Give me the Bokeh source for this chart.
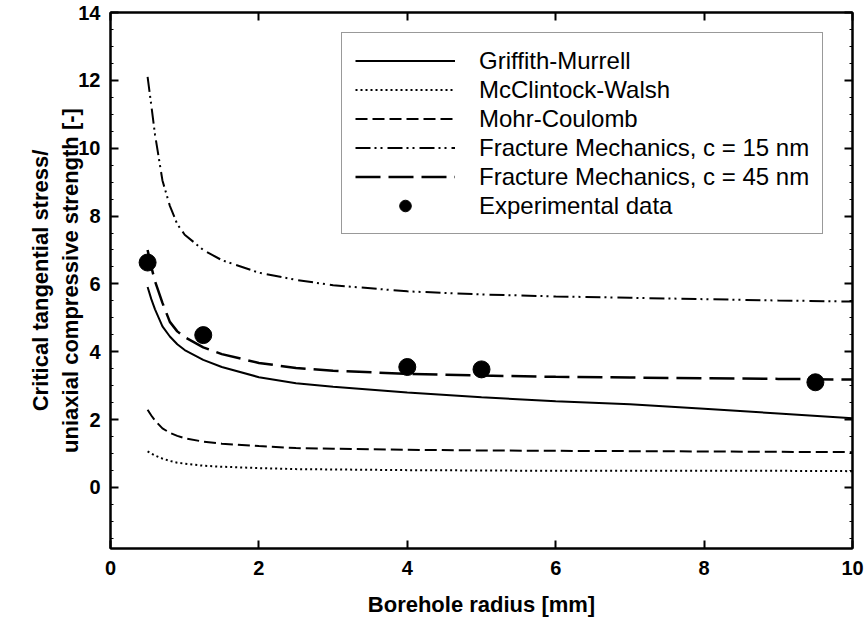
import numpy as np
from bokeh.plotting import figure
from bokeh.models import (Legend, LegendItem, LinearAxis, FixedTicker, Range1d)
from bokeh.embed import file_html
from bokeh.resources import INLINE

# ---- data ----
x_curve = [0.5, 0.55, 0.6, 0.7, 0.8, 0.9, 1.0, 1.25, 1.5, 2.0, 2.5, 3.0, 4.0, 5.0, 6.0, 7.0, 8.0, 9.0, 10.0]
griffith = [5.91, 5.55, 5.25, 4.75, 4.45, 4.22, 4.05, 3.76, 3.55, 3.25, 3.07, 2.97, 2.80, 2.66, 2.54, 2.45, 2.32, 2.18, 2.04]
mcclintock = [1.06, 1.00, 0.94, 0.85, 0.78, 0.73, 0.70, 0.64, 0.61, 0.57, 0.54, 0.53, 0.51, 0.50, 0.49, 0.49, 0.49, 0.49, 0.48]
mohr = [2.29, 2.12, 1.97, 1.74, 1.61, 1.52, 1.45, 1.35, 1.29, 1.22, 1.16, 1.14, 1.11, 1.09, 1.08, 1.07, 1.06, 1.05, 1.04]
fm15 = [12.10, 11.26, 10.40, 9.05, 8.30, 7.76, 7.45, 7.00, 6.70, 6.33, 6.12, 5.96, 5.78, 5.69, 5.63, 5.59, 5.55, 5.51, 5.48]
fm45 = [7.00, 6.50, 6.08, 5.44, 4.88, 4.60, 4.43, 4.13, 3.93, 3.67, 3.52, 3.44, 3.35, 3.30, 3.26, 3.24, 3.22, 3.20, 3.18]
exp_x = [0.5, 1.25, 4.0, 5.0, 9.5]
exp_y = [6.63, 4.49, 3.55, 3.48, 3.10]

x_ticks = [0, 2, 4, 6, 8, 10]
y_ticks = [0, 2, 4, 6, 8, 10, 12, 14]
y_minor = [v / 2 for v in range(-3, 29) if v % 4 != 0]

FONT = "Liberation Sans"

p = figure(width=866, height=628, x_range=Range1d(0, 10), y_range=Range1d(-1.8, 14),
           output_backend="svg", toolbar_location=None,
           min_border_left=110, min_border_right=14, min_border_top=12, min_border_bottom=80)
p.background_fill_color = "white"
p.border_fill_color = "white"
p.outline_line_color = "black"
p.outline_line_width = 2
p.xgrid.visible = False
p.ygrid.visible = False

lw = 2
r_gm = p.line(x_curve, griffith, line_color="black", line_width=lw)
r_mw = p.line(x_curve, mcclintock, line_color="black", line_width=lw, line_dash="2 3")
r_mc = p.line(x_curve, mohr, line_color="black", line_width=lw, line_dash="12 5")
r_f15 = p.line(x_curve, fm15, line_color="black", line_width=lw, line_dash="15 4 2 4 2 5")
r_f45 = p.line(x_curve, fm45, line_color="black", line_width=2.5, line_dash="25 8")
r_exp = p.scatter(exp_x, exp_y, size=17, marker="circle", fill_color="black", line_color="black")

# axes styling
def style_axis(ax):
    ax.axis_line_width = 2
    ax.axis_line_color = "black"
    ax.major_tick_in = 8
    ax.major_tick_out = 0
    ax.major_tick_line_width = 2
    ax.minor_tick_in = 3
    ax.minor_tick_out = 0
    ax.minor_tick_line_width = 1
    ax.major_label_text_font = FONT
    ax.major_label_text_font_style = "bold"
    ax.major_label_text_font_size = "20px"
    ax.major_label_text_color = "black"
    ax.axis_label_text_font = FONT
    ax.axis_label_text_font_style = "bold"
    ax.axis_label_text_font_size = "22px"
    ax.axis_label_text_color = "black"

xa = p.xaxis[0]
ya = p.yaxis[0]
style_axis(xa)
style_axis(ya)
xa.ticker = FixedTicker(ticks=x_ticks, minor_ticks=[])
ya.ticker = FixedTicker(ticks=y_ticks, minor_ticks=y_minor)
xa.axis_label = "Borehole radius [mm]"
ya.axis_label = "Critical tangential stress/\nuniaxial compressive strength [-]"
xa.major_label_standoff = 12
ya.major_label_standoff = 10
xa.axis_label_standoff = 14
ya.axis_label_standoff = -8

# right and top axes with inward ticks, no labels
ra = LinearAxis(ticker=FixedTicker(ticks=y_ticks, minor_ticks=y_minor))
ta = LinearAxis(ticker=FixedTicker(ticks=x_ticks, minor_ticks=[]))
for ax, tks in ((ra, y_ticks), (ta, x_ticks)):
    style_axis(ax)
    ax.major_label_overrides = {t: "" for t in tks}
    ax.major_label_standoff = 0
p.add_layout(ra, "right")
p.add_layout(ta, "above")

legend = Legend(items=[
    LegendItem(label="Griffith-Murrell", renderers=[r_gm]),
    LegendItem(label="McClintock-Walsh", renderers=[r_mw]),
    LegendItem(label="Mohr-Coulomb", renderers=[r_mc]),
    LegendItem(label="Fracture Mechanics, c = 15 nm", renderers=[r_f15]),
    LegendItem(label="Fracture Mechanics, c = 45 nm", renderers=[r_f45]),
    LegendItem(label="Experimental data", renderers=[r_exp]),
], location=(231, 314))
legend.margin = 0
legend.padding = 13
legend.spacing = 0
legend.glyph_width = 100
legend.glyph_height = 29
legend.label_height = 29
legend.label_standoff = 24
legend.label_text_font = FONT
legend.label_text_font_size = "24px"
legend.label_text_color = "black"
legend.border_line_color = "#333333"
legend.border_line_width = 1.5
legend.background_fill_color = "white"
legend.background_fill_alpha = 1
p.add_layout(legend)

open("out.html", "w").write(file_html(p, INLINE))
